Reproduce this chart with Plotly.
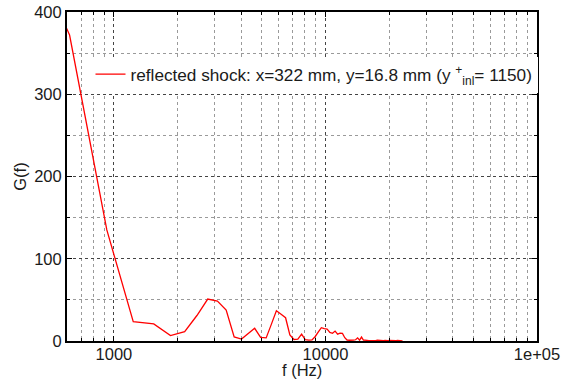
import numpy as np
import plotly.graph_objects as go

# Spectrum G(f) at the reflected-shock station (frequency bins in Hz)
freq_hz = [
    308.5, 617, 925.5, 1234, 1542.5, 1851, 2159.5, 2468, 2776.5, 3085,
    3393.5, 3702, 4010.5, 4319, 4627.5, 4936, 5244.5, 5553, 5861.5, 6170,
    6478.5, 6787, 7095.5, 7404, 7712.5, 8021, 8329.5, 8638, 8946.5, 9255,
    9563.5, 9872, 10180.5, 10489, 10797.5, 11106, 11414.5, 11723, 12031.5, 12340,
    12648.5, 12957, 13265.5, 13574, 13882.5, 14191, 14499.5, 14808, 15116.5, 15425,
    15733.5, 16042, 16350.5, 16659, 16967.5, 17276, 17584.5, 17893, 18201.5, 18510,
    18818.5, 19127, 19435.5, 19744, 20052.5, 20361, 20669.5, 20978, 21286.5, 21595,
    21903.5, 22212, 22520.5, 22829, 23137.5,
]
g_values = [
    546, 372, 135, 23.5, 20.7, 6.5, 11.3, 31, 51, 48.5,
    37.7, 5, 2.4, 9, 15.4, 4.5, 3.8, 20.5, 36.8, 32.5,
    28.3, 7.3, 1.8, 2.3, 8.3, 1.6, 1.0, 1.4, 5.5, 11,
    16.2, 15.0, 14.4, 10.5, 9.3, 12, 8.3, 9.5, 9.2, 4,
    1.2, 0.9, 0.6, 1.0, 1.5, 3.8, 1.0, 4.8, 1.2, 0.6,
    0.8, 0.5, 0.4, 0.9, 0.6, 0.5, 1.1, 0.7, 0.4, 0.3,
    0.5, 0.8, 0.4, 0.3, 0.6, 0.4, 0.3, 0.2, 0.4, 0.3,
    0.6, 0.4, 0.3, 0.2, 0.1,
]

x_major = [1000, 10000, 100000]
x_major_text = ["1000", "10000", "1e+05"]
x_minor = [600, 700, 800, 900] + [k * 1000 for k in range(2, 10)] + [k * 10000 for k in range(2, 10)]

legend_label = "reflected shock: x=322 mm, y=16.8 mm (y <sup>+</sup><sub>inl</sub>= 1150)"

FONT = "Liberation Sans, Arial, Helvetica, sans-serif"
TXT = "#1a1a1a"

fig = go.Figure()
fig.add_trace(go.Scatter(
    x=freq_hz, y=g_values, mode="lines",
    line=dict(color="#ff0000", width=1.3),
    name=legend_label,
))

axis_common = dict(
    showline=True, linecolor="black", linewidth=2, mirror="ticks",
    ticks="inside", ticklen=5, tickcolor="black", tickwidth=1,
    showgrid=True, gridcolor="#444444", griddash="dot", gridwidth=1,
    zeroline=False, automargin=False,
    tickfont=dict(family=FONT, size=16.5, color=TXT),
)

fig.update_xaxes(
    type="log", range=[np.log10(600), 5],
    tickmode="array", tickvals=x_major, ticktext=x_major_text,
    ticklabelstandoff=-3,
    minor=dict(tickvals=x_minor, ticks="inside", ticklen=3, tickcolor="black",
               showgrid=True, gridcolor="#9a9a9a", griddash="dot", gridwidth=1),
    **axis_common,
)
fig.update_yaxes(
    range=[0, 400], tickmode="linear", tick0=0, dtick=100,
    minor=dict(dtick=50, ticks="inside", ticklen=3, tickcolor="black",
               showgrid=True, gridcolor="#9a9a9a", griddash="dot", gridwidth=1),
    title=dict(text="G(f)", font=dict(family=FONT, size=16.5, color=TXT), standoff=3),
    **axis_common,
)

# x-axis title sits close under the tick labels
fig.add_annotation(
    text="f (Hz)", xref="paper", yref="paper", x=0.5, y=-0.089,
    xanchor="center", yanchor="middle", showarrow=False,
    font=dict(family=FONT, size=16.5, color=TXT),
)

fig.update_layout(
    width=574, height=382,
    margin=dict(l=67, r=37, t=12, b=41),
    paper_bgcolor="white", plot_bgcolor="white",
    font=dict(family=FONT, size=16.5, color=TXT),
    showlegend=True,
    legend=dict(
        x=0.05, y=0.81, xanchor="left", yanchor="middle",
        bgcolor="white", borderwidth=0,
        font=dict(family=FONT, size=17.2, color=TXT),
    ),
)

fig.write_html("out.html")
